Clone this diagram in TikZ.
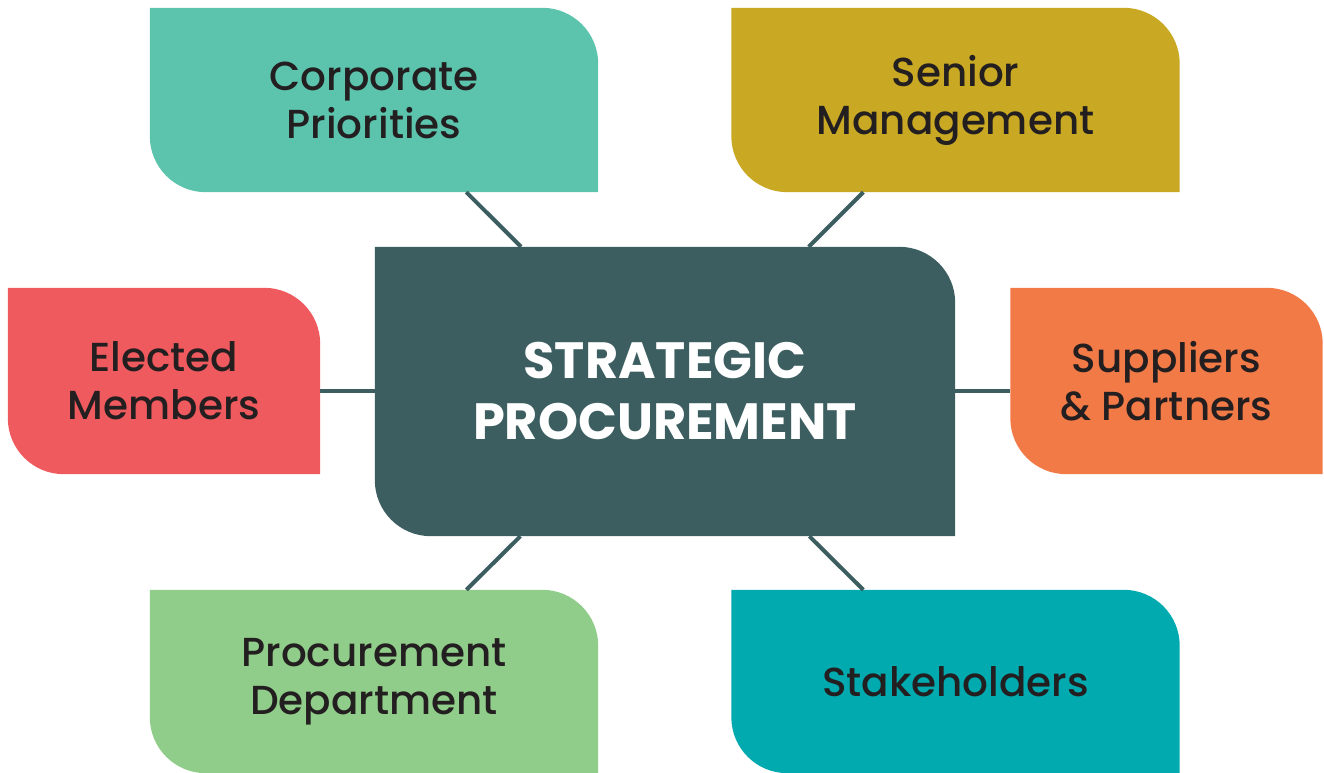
\documentclass[tikz,border=0pt]{standalone}
\usepackage{fontspec}
\setmainfont{Poppins}[UprightFont={* Medium}, BoldFont={* Bold}]
\usepackage{tikz}
\usetikzlibrary{positioning,backgrounds,calc}

\definecolor{corpcol}{HTML}{5CC4AD}
\definecolor{seniorcol}{HTML}{C9A923}
\definecolor{hubcol}{HTML}{3C5E60}
\definecolor{electcol}{HTML}{EF5A5E}
\definecolor{suppcol}{HTML}{F27A47}
\definecolor{deptcol}{HTML}{91CD8A}
\definecolor{stakecol}{HTML}{00AAAE}
\definecolor{txtcol}{HTML}{231F20}

\begin{document}
\begin{tikzpicture}[
    x=1pt, y=1pt,
    % GLOBAL CFG
    font=\fontsize{40.5}{48}\selectfont,
    % Styles
    spoke/.style={% For the outer boxes
        rectangle,
        inner sep=0pt,
        text=txtcol,
        align=center,
        minimum width=448pt,
        minimum height=184pt,
        },
    side/.style={% For the narrow boxes left and right
        spoke,
        minimum width=312pt,
        minimum height=186pt,
        },
    hubbox/.style={% For the main box
        rectangle,
        inner sep=0pt,
        text=white,
        align=center,
        minimum width=580pt,
        minimum height=289pt,
        font=\fontsize{51}{61}\selectfont\bfseries,
        },
    link/.style={% connectors
        line width=4pt,
        draw=hubcol,
        },
    ]

    \useasboundingbox (0,0) rectangle (1324,773);

    % The boxes
    \node [hubbox] (hub) at (665, 381.5) {STRATEGIC\\PROCUREMENT};

    \node [spoke] (cp) at (374, 673) {Corporate\\Priorities};
    \node [spoke] (sm) at (955.5, 673) {Senior\\Management};
    \node [side] (em) at (164, 392) {Elected\\Members};
    \node [side] (sp) at (1166.5, 392) {Suppliers\\\& Partners};
    \node [spoke, minimum height=183pt] (pd) at (374, 91.5) {Procurement\\Department};
    \node [spoke, minimum height=183pt] (st) at (955.5, 91.5) {Stakeholders};

    % Fill them: only top right and bottom left corners are round
    \begin{scope}[on background layer]
    \foreach \n/\c in {cp/corpcol, sm/seniorcol, em/electcol, sp/suppcol, pd/deptcol, st/stakecol, hub/hubcol}{
        \fill[\c] (\n.north west) -- ($(\n.north east)+(-56,0)$)
            arc[start angle=90, end angle=0, radius=56] -- (\n.south east)
            -- ($(\n.south west)+(56,0)$)
            arc[start angle=270, end angle=180, radius=56] -- cycle;
    }
    \end{scope}

    % Connecting all
    \draw [link] (cp) -- (hub);
    \draw [link] (sm) -- (hub);
    \draw [link] (pd) -- (hub);
    \draw [link] (st) -- (hub);
    \draw [link] (em.east |- hub) -- (hub.west);
    \draw [link] (hub.east) -- (sp.west |- hub);
\end{tikzpicture}
\end{document}
